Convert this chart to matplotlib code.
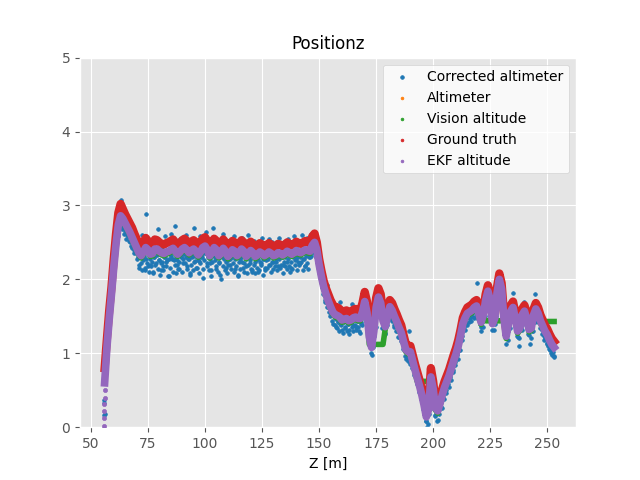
import numpy as np
import matplotlib
matplotlib.use("Agg")
import matplotlib.pyplot as plt

plt.style.use("ggplot")

# position le long de l'axe Z (m), une valeur par metre
z_grid = np.arange(56, 254)

# verite terrain (altitude, m)
gt_alt = [
    0.80, 1.20, 1.58, 1.90, 2.28, 2.62, 2.90, 3.02, 2.95, 2.88,
    2.82, 2.76, 2.70, 2.62, 2.55, 2.48, 2.44, 2.50, 2.56, 2.52,
    2.46, 2.48, 2.54, 2.53, 2.50, 2.48, 2.47, 2.49, 2.50, 2.52,
    2.54, 2.50, 2.46, 2.49, 2.53, 2.55, 2.52, 2.48, 2.51, 2.53,
    2.50, 2.46, 2.50, 2.55, 2.57, 2.52, 2.45, 2.49, 2.55, 2.52,
    2.45, 2.48, 2.54, 2.50, 2.44, 2.47, 2.52, 2.50, 2.45, 2.48,
    2.53, 2.50, 2.44, 2.47, 2.51, 2.48, 2.44, 2.46, 2.49, 2.47,
    2.44, 2.46, 2.49, 2.47, 2.44, 2.45, 2.48, 2.47, 2.45, 2.47,
    2.50, 2.48, 2.46, 2.48, 2.51, 2.49, 2.48, 2.50, 2.52, 2.50,
    2.49, 2.58, 2.62, 2.50, 2.28, 2.12, 1.98, 1.88, 1.80, 1.72,
    1.66, 1.62, 1.62, 1.60, 1.56, 1.57, 1.58, 1.55, 1.56, 1.59,
    1.60, 1.58, 1.58, 1.68, 1.83, 1.70, 1.40, 1.25, 1.45, 1.75,
    1.88, 1.80, 1.55, 1.47, 1.60, 1.72, 1.68, 1.60, 1.53, 1.45,
    1.38, 1.25, 1.13, 1.10, 1.10, 0.98, 0.86, 0.75, 0.64, 0.52,
    0.40, 0.26, 0.35, 0.80, 0.62, 0.34, 0.30, 0.40, 0.52, 0.62,
    0.70, 0.78, 0.88, 0.98, 1.07, 1.18, 1.32, 1.48, 1.56, 1.62,
    1.64, 1.66, 1.70, 1.72, 1.62, 1.50, 1.60, 1.80, 1.92, 1.80,
    1.48, 1.55, 1.90, 2.08, 1.95, 1.55, 1.31, 1.48, 1.65, 1.70,
    1.55, 1.38, 1.42, 1.60, 1.65, 1.55, 1.40, 1.42, 1.60, 1.68,
    1.62, 1.52, 1.45, 1.38, 1.33, 1.26, 1.20, 1.16,
]

# altitude estimee par l'EKF
ekf_alt = [
    0.60, 1.08, 1.46, 1.80, 2.16, 2.48, 2.74, 2.86, 2.82, 2.76,
    2.70, 2.64, 2.57, 2.50, 2.43, 2.36, 2.32, 2.37, 2.43, 2.40,
    2.34, 2.35, 2.41, 2.41, 2.38, 2.36, 2.35, 2.37, 2.38, 2.40,
    2.42, 2.38, 2.34, 2.37, 2.41, 2.43, 2.40, 2.36, 2.39, 2.41,
    2.38, 2.33, 2.37, 2.43, 2.45, 2.40, 2.32, 2.36, 2.43, 2.40,
    2.32, 2.35, 2.42, 2.38, 2.31, 2.34, 2.40, 2.38, 2.32, 2.35,
    2.41, 2.38, 2.31, 2.34, 2.39, 2.36, 2.31, 2.33, 2.37, 2.35,
    2.32, 2.34, 2.37, 2.35, 2.32, 2.33, 2.36, 2.35, 2.33, 2.35,
    2.38, 2.36, 2.34, 2.36, 2.39, 2.37, 2.36, 2.38, 2.40, 2.39,
    2.38, 2.46, 2.50, 2.40, 2.20, 2.04, 1.90, 1.80, 1.71, 1.63,
    1.56, 1.52, 1.51, 1.49, 1.45, 1.46, 1.47, 1.44, 1.45, 1.48,
    1.49, 1.47, 1.47, 1.56, 1.70, 1.55, 1.22, 1.08, 1.30, 1.62,
    1.76, 1.68, 1.44, 1.36, 1.50, 1.63, 1.58, 1.50, 1.43, 1.35,
    1.28, 1.16, 1.05, 1.02, 1.02, 0.90, 0.78, 0.67, 0.56, 0.44,
    0.30, 0.14, 0.24, 0.68, 0.52, 0.26, 0.22, 0.32, 0.44, 0.54,
    0.62, 0.70, 0.80, 0.90, 0.99, 1.10, 1.24, 1.40, 1.48, 1.54,
    1.56, 1.58, 1.62, 1.64, 1.54, 1.42, 1.52, 1.72, 1.84, 1.72,
    1.40, 1.47, 1.82, 2.00, 1.87, 1.47, 1.23, 1.40, 1.57, 1.62,
    1.47, 1.30, 1.34, 1.52, 1.57, 1.47, 1.32, 1.34, 1.52, 1.60,
    1.54, 1.44, 1.37, 1.30, 1.25, 1.18, 1.12, 1.08,
]

# altitude vision (paliers quand la vision decroche)
vision_alt = [
    0.66, 1.05, 1.43, 1.77, 2.13, 2.45, 2.71, 2.83, 2.79, 2.73,
    2.67, 2.61, 2.54, 2.47, 2.40, 2.33, 2.29, 2.34, 2.40, 2.37,
    2.31, 2.32, 2.38, 2.38, 2.35, 2.33, 2.32, 2.34, 2.35, 2.37,
    2.39, 2.35, 2.31, 2.34, 2.38, 2.40, 2.37, 2.33, 2.36, 2.38,
    2.35, 2.30, 2.34, 2.40, 2.42, 2.37, 2.29, 2.33, 2.40, 2.37,
    2.29, 2.32, 2.39, 2.35, 2.28, 2.31, 2.37, 2.35, 2.29, 2.32,
    2.38, 2.35, 2.28, 2.31, 2.36, 2.33, 2.28, 2.30, 2.34, 2.32,
    2.29, 2.31, 2.34, 2.32, 2.29, 2.30, 2.33, 2.32, 2.30, 2.32,
    2.35, 2.33, 2.31, 2.33, 2.36, 2.34, 2.33, 2.35, 2.37, 2.36,
    2.35, 2.43, 2.47, 2.37, 2.17, 2.01, 1.87, 1.77, 1.68, 1.60,
    1.53, 1.49, 1.48, 1.46, 1.42, 1.43, 1.44, 1.41, 1.42, 1.45,
    1.46, 1.44, 1.44, 1.53, 1.67, 1.52, 1.12, 1.12, 1.12, 1.12,
    1.12, 1.12, 1.12, 1.33, 1.47, 1.60, 1.55, 1.47, 1.40, 1.32,
    1.25, 1.13, 1.02, 0.99, 0.99, 0.87, 0.75, 0.62, 0.62, 0.62,
    0.62, 0.62, 0.62, 0.65, 0.49, 0.23, 0.19, 0.29, 0.41, 0.51,
    0.59, 0.67, 0.77, 0.87, 0.96, 1.07, 1.21, 1.37, 1.45, 1.51,
    1.53, 1.55, 1.59, 1.61, 1.51, 1.39, 1.49, 1.44, 1.44, 1.44,
    1.44, 1.44, 1.44, 1.44, 1.44, 1.44, 1.20, 1.37, 1.54, 1.59,
    1.44, 1.27, 1.31, 1.49, 1.54, 1.44, 1.29, 1.31, 1.49, 1.57,
    1.51, 1.41, 1.34, 1.43, 1.43, 1.43, 1.43, 1.43,
]

# altimetre corrige, deux passes decalees de 0.25 m
z_alti_a = np.arange(56.0, 253.5, 0.5)
alti_corr_a = [
    0.18, 0.85, 1.02, 1.35, 1.40, 1.70, 1.85, 1.92, 2.25, 2.30,
    2.45, 2.70, 2.66, 2.92, 3.07, 2.75, 2.98, 2.62, 2.85, 2.55,
    2.62, 2.78, 2.50, 2.72, 2.42, 2.60, 2.35, 2.55, 2.28, 2.48,
    2.15, 2.48, 2.22, 2.60, 2.30, 2.12, 2.88, 2.38, 2.18, 2.52,
    2.20, 2.45, 2.10, 2.30, 2.55, 2.22, 2.36, 2.68, 2.26, 2.12,
    2.44, 2.18, 2.30, 2.58, 2.24, 2.40, 2.05, 2.34, 2.62, 2.28,
    2.50, 2.26, 2.72, 2.20, 2.42, 2.14, 2.55, 2.30, 2.48, 2.22,
    2.35, 2.60, 2.18, 2.46, 2.28, 2.08, 2.52, 2.32, 2.70, 2.25,
    2.44, 2.15, 2.38, 2.25, 2.58, 2.30, 2.02, 2.48, 2.36, 2.64,
    2.22, 2.50, 2.28, 2.12, 2.44, 2.70, 2.32, 2.55, 2.18, 2.40,
    2.24, 2.46, 2.00, 2.38, 2.62, 2.28, 2.16, 2.42, 2.26, 2.52,
    2.20, 2.44, 2.34, 2.58, 2.14, 2.40, 2.30, 2.06, 2.46, 2.28,
    2.56, 2.32, 2.22, 2.48, 2.18, 2.36, 2.60, 2.26, 2.42, 2.12,
    2.30, 2.52, 2.24, 2.40, 2.10, 2.34, 2.48, 2.22, 2.56, 2.28,
    2.38, 2.16, 2.44, 2.30, 2.54, 2.20, 2.36, 2.50, 2.24, 2.40,
    2.28, 2.46, 2.18, 2.56, 2.32, 2.42, 2.20, 2.50, 2.30, 2.46,
    2.24, 2.55, 2.40, 2.16, 2.46, 2.32, 2.58, 2.26, 2.44, 2.30,
    2.52, 2.22, 2.40, 2.60, 2.28, 2.48, 2.18, 2.56, 2.34, 2.46,
    2.30, 2.62, 2.40, 2.55, 2.44, 2.34, 2.28, 2.22, 2.10, 2.05,
    1.98, 1.95, 1.85, 1.72, 1.78, 1.92, 1.62, 1.68, 1.55, 1.70,
    1.40, 1.62, 1.48, 1.35, 1.58, 1.42, 1.70, 1.38, 1.46, 1.28,
    1.52, 1.36, 1.60, 1.40, 1.32, 1.55, 1.42, 1.66, 1.38, 1.50,
    1.36, 1.58, 1.44, 1.30, 1.52, 1.40, 1.62, 1.55, 1.76, 1.50,
    1.48, 1.30, 1.15, 1.10, 0.98, 1.12, 1.24, 1.40, 1.55, 1.74,
    1.70, 1.84, 1.60, 1.50, 1.36, 1.46, 1.28, 1.40, 1.56, 1.48,
    1.70, 1.54, 1.62, 1.46, 1.38, 1.52, 1.30, 1.42, 1.22, 1.36,
    1.20, 1.32, 1.08, 1.16, 0.92, 1.12, 0.96, 1.30, 0.86, 1.00,
    0.82, 0.96, 0.70, 0.78, 0.58, 0.74, 0.48, 0.60, 0.36, 0.45,
    0.22, 0.35, 0.08, 0.00, 0.18, 0.40, 0.75, 0.50, 0.44, 0.25,
    0.15, 0.32, 0.10, 0.24, 0.38, 0.28, 0.52, 0.40, 0.62, 0.50,
    0.70, 0.58, 0.76, 0.68, 0.88, 0.78, 0.96, 0.88, 1.05, 0.98,
    1.16, 1.05, 1.30, 1.24, 1.46, 1.35, 1.56, 1.42, 1.62, 1.48,
    1.48, 1.66, 1.50, 1.72, 1.56, 1.62, 1.95, 1.52, 1.45, 1.40,
    1.30, 1.56, 1.44, 1.70, 1.62, 1.85, 1.76, 1.70, 1.64, 1.48,
    1.32, 1.50, 1.40, 1.58, 1.74, 1.85, 1.92, 1.88, 1.95, 1.60,
    1.40, 1.25, 1.12, 1.38, 1.30, 1.55, 1.48, 1.66, 1.82, 1.50,
    1.38, 1.45, 1.22, 1.10, 1.40, 1.34, 1.60, 1.46, 1.70, 1.44,
    1.36, 1.52, 1.25, 1.12, 1.42, 1.30, 1.58, 1.80, 1.66, 1.50,
    1.60, 1.42, 1.50, 1.32, 1.38, 1.24, 1.20, 1.34, 1.14, 1.10,
    1.05, 1.12, 0.98, 1.02, 0.95,
]

z_alti_b = np.arange(56.25, 253.0, 0.5)
alti_corr_b = [
    0.62, 0.95, 1.18, 1.30, 1.55, 1.68, 1.82, 2.05, 2.12, 2.38,
    2.52, 2.58, 2.80, 2.70, 2.78, 2.68, 2.72, 2.66, 2.70, 2.60,
    2.58, 2.52, 2.60, 2.45, 2.50, 2.40, 2.46, 2.36, 2.38, 2.30,
    2.20, 2.30, 2.12, 2.26, 2.32, 2.16, 2.28, 2.22, 2.10, 2.27,
    2.18, 2.24, 2.08, 2.30, 2.20, 2.33, 2.14, 2.26, 2.06, 2.22,
    2.24, 2.12, 2.30, 2.18, 2.26, 2.04, 2.28, 2.16, 2.32, 2.10,
    2.28, 2.20, 2.08, 2.26, 2.14, 2.24, 2.32, 2.10, 2.27, 2.34,
    2.22, 2.30, 2.14, 2.28, 2.06, 2.20, 2.30, 2.12, 2.24, 2.32,
    2.16, 2.26, 2.08, 2.22, 2.30, 2.34, 2.14, 2.26, 2.36, 2.18,
    2.30, 2.12, 2.22, 2.04, 2.24, 2.32, 2.26, 2.14, 2.30, 2.10,
    2.22, 2.06, 2.30, 2.18, 2.32, 2.12, 2.24, 2.08, 2.20, 2.28,
    2.14, 2.30, 2.22, 2.10, 2.28, 2.18, 2.04, 2.24, 2.14, 2.30,
    2.24, 2.16, 2.10, 2.28, 2.08, 2.20, 2.30, 2.22, 2.14, 2.10,
    2.20, 2.08, 2.26, 2.16, 2.28, 2.12, 2.24, 2.20, 2.06, 2.28,
    2.12, 2.26, 2.16, 2.28, 2.20, 2.10, 2.24, 2.14, 2.30, 2.18,
    2.24, 2.12, 2.28, 2.16, 2.20, 2.30, 2.08, 2.24, 2.18, 2.14,
    2.28, 2.18, 2.10, 2.24, 2.14, 2.30, 2.20, 2.28, 2.12, 2.24,
    2.20, 2.30, 2.24, 2.12, 2.28, 2.18, 2.32, 2.22, 2.14, 2.30,
    2.32, 2.38, 2.44, 2.36, 2.42, 2.30, 2.24, 2.16, 2.08, 2.00,
    1.90, 1.80, 1.88, 1.70, 1.62, 1.72, 1.56, 1.50, 1.60, 1.44,
    1.52, 1.38, 1.46, 1.34, 1.44, 1.30, 1.40, 1.48, 1.32, 1.42,
    1.34, 1.46, 1.30, 1.40, 1.26, 1.44, 1.36, 1.30, 1.46, 1.38,
    1.32, 1.44, 1.36, 1.28, 1.42, 1.38, 1.56, 1.48, 1.66, 1.44,
    1.46, 1.20, 1.12, 1.00, 1.10, 1.08, 1.34, 1.36, 1.62, 1.58,
    1.72, 1.58, 1.60, 1.34, 1.40, 1.26, 1.42, 1.38, 1.58, 1.46,
    1.60, 1.44, 1.54, 1.36, 1.46, 1.30, 1.38, 1.22, 1.32, 1.16,
    1.24, 1.06, 1.12, 0.96, 1.04, 0.90, 1.00, 0.88, 0.98, 0.80,
    0.88, 0.70, 0.80, 0.60, 0.70, 0.50, 0.58, 0.38, 0.46, 0.24,
    0.32, 0.08, 0.16, 0.04, 0.36, 0.46, 0.66, 0.40, 0.42, 0.16,
    0.26, 0.08, 0.28, 0.18, 0.36, 0.26, 0.48, 0.38, 0.56, 0.46,
    0.64, 0.54, 0.72, 0.64, 0.82, 0.74, 0.92, 0.84, 1.02, 0.92,
    1.12, 1.04, 1.26, 1.18, 1.42, 1.32, 1.50, 1.38, 1.56, 1.42,
    1.58, 1.44, 1.62, 1.48, 1.66, 1.50, 1.62, 1.46, 1.54, 1.36,
    1.46, 1.36, 1.54, 1.50, 1.74, 1.64, 1.80, 1.62, 1.70, 1.42,
    1.44, 1.32, 1.52, 1.50, 1.84, 1.76, 1.96, 1.78, 1.84, 1.50,
    1.48, 1.20, 1.26, 1.18, 1.42, 1.34, 1.58, 1.46, 1.64, 1.40,
    1.48, 1.24, 1.34, 1.20, 1.38, 1.32, 1.54, 1.42, 1.60, 1.38,
    1.48, 1.26, 1.36, 1.20, 1.38, 1.30, 1.54, 1.42, 1.62, 1.42,
    1.56, 1.34, 1.46, 1.26, 1.38, 1.18, 1.32, 1.12, 1.26, 1.06,
    1.18, 1.00, 1.10, 0.96,
]

# decollage : points au sol avant que la vision accroche
takeoff_z = [55.8, 55.8, 55.9, 55.9, 56.0, 56.0]
takeoff_ekf = [0.02, 0.12, 0.22, 0.32, 0.40, 0.50]
takeoff_alti = [0.16, 0.33, 0.37]

# altimetre brut : hors de la fenetre affichee
alti_raw_z = []
alti_raw = []

c_corr, c_raw, c_vis, c_gt, c_ekf = "#1f77b4", "#ff7f0e", "#2ca02c", "#d62728", "#9467bd"

fig, ax = plt.subplots(figsize=(6.4, 4.8), dpi=100)

ax.scatter(z_alti_a, alti_corr_a, s=7, color=c_corr, label="Corrected altimeter", zorder=2)
ax.scatter(z_alti_b, alti_corr_b, s=7, color=c_corr, zorder=2)
ax.scatter(takeoff_z[:3], takeoff_alti, s=7, color=c_corr, zorder=2)
ax.scatter(alti_raw_z, alti_raw, s=4, color=c_raw, label="Altimeter", zorder=3)

ax.plot(z_grid, vision_alt, color=c_vis, lw=4, zorder=4)
ax.scatter(z_grid, vision_alt, s=4, color=c_vis, label="Vision altitude", zorder=4)

ax.plot(z_grid, gt_alt, color=c_gt, lw=6, zorder=5)
ax.scatter(z_grid, gt_alt, s=4, color=c_gt, label="Ground truth", zorder=5)

ax.plot(z_grid, ekf_alt, color=c_ekf, lw=5.5, zorder=6)
ax.scatter(z_grid, ekf_alt, s=4, color=c_ekf, label="EKF altitude", zorder=6)
ax.scatter(takeoff_z, takeoff_ekf, s=9, color=c_ekf, zorder=6)

ax.set_xlim(45.2, 262.6)
ax.set_ylim(0, 5)
ax.set_title("Positionz", fontsize=12)
ax.set_xlabel("Z [m]", fontsize=10, color="black")
leg = ax.legend(loc="upper right", facecolor="white", framealpha=0.8,
                edgecolor="#cccccc", fontsize=10)
for t in leg.get_texts():
    t.set_color("black")

plt.savefig("out.png", dpi=100)
